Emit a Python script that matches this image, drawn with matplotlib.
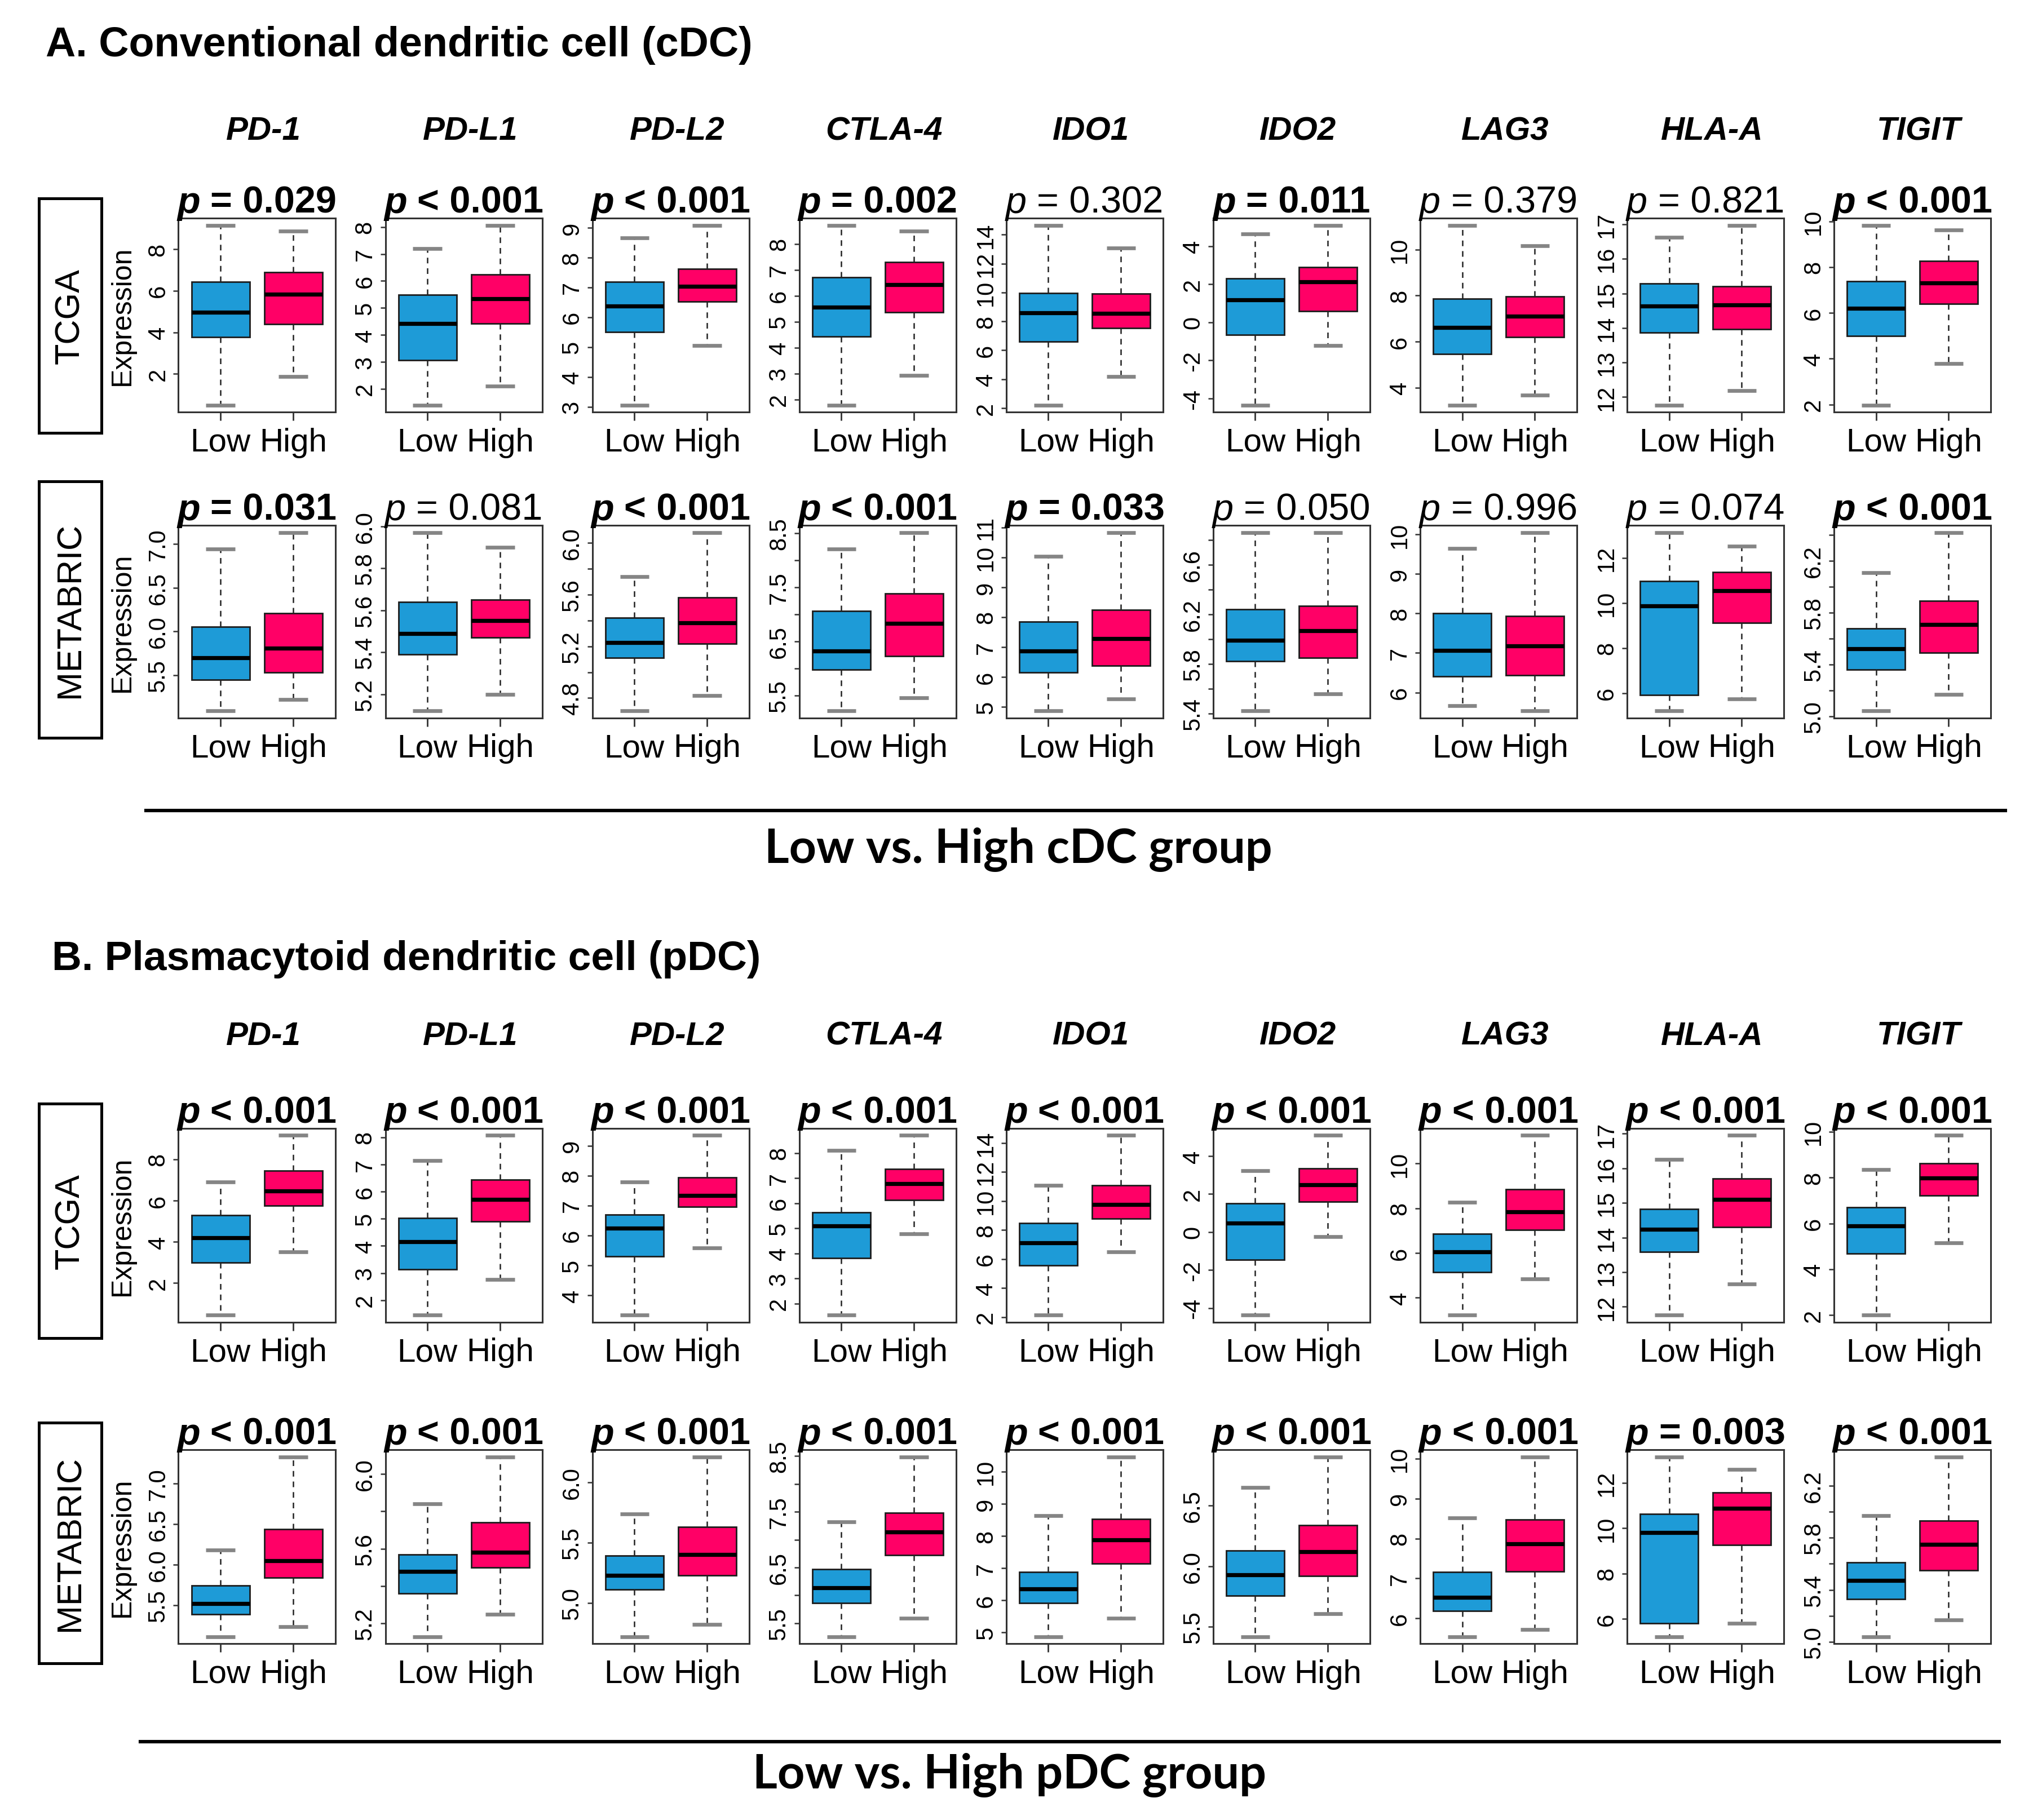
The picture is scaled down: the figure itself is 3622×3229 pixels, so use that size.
import matplotlib
matplotlib.use('Agg')
import matplotlib.pyplot as plt
from matplotlib.lines import Line2D
from matplotlib.patches import Rectangle

plt.rcParams['font.family'] = ['Liberation Sans', 'DejaVu Sans']

# ---------------- data ----------------
genes = ['PD-1', 'PD-L1', 'PD-L2', 'CTLA-4', 'IDO1', 'IDO2', 'LAG3', 'HLA-A', 'TIGIT']
groups = ['Low', 'High']
cohorts = ['TCGA', 'METABRIC', 'TCGA', 'METABRIC']

# box statistics per gene: [lower whisker, Q1, median, Q3, upper whisker]
cdc_tcga_low = [[0.5, 3.76, 4.97, 6.43, 9.15], [1.4, 3.07, 4.43, 5.49, 7.2], [3.06, 5.51, 6.37, 7.18, 8.67],
                [1.79, 4.42, 5.55, 6.70, 8.71], [2.21, 6.59, 8.61, 9.95, 14.65], [-4.34, -0.65, 1.18, 2.29, 4.64],
                [3.25, 5.46, 6.61, 7.87, 11.05], [11.77, 13.86, 14.63, 15.28, 16.62], [1.98, 5.0, 6.21, 7.37, 9.82]]
cdc_tcga_high = [[1.88, 4.4, 5.84, 6.88, 8.88], [2.1, 4.42, 5.34, 6.24, 8.06], [5.05, 6.52, 7.03, 7.63, 9.08],
                 [2.93, 5.37, 6.42, 7.29, 8.48], [4.2, 7.53, 8.55, 9.92, 13.08], [-1.23, 0.58, 2.14, 2.89, 5.09],
                 [3.68, 6.19, 7.10, 7.95, 10.16], [12.19, 13.97, 14.66, 15.20, 16.97], [3.79, 6.40, 7.31, 8.26, 9.63]]
cdc_tcga_p = ['= 0.029', '< 0.001', '< 0.001', '= 0.002', '= 0.302', '= 0.011', '= 0.379', '= 0.821', '< 0.001']

cdc_meta_low = [[5.09, 5.45, 5.70, 6.05, 6.94], [5.12, 5.39, 5.49, 5.64, 5.97], [4.70, 5.11, 5.23, 5.42, 5.74],
                [5.22, 5.98, 6.33, 7.06, 8.21], [4.86, 6.15, 6.86, 7.84, 10.03], [5.42, 5.82, 5.99, 6.24, 6.86],
                [5.66, 6.41, 7.06, 8.0, 9.65], [5.21, 5.92, 9.87, 10.98, 13.12], [5.04, 5.36, 5.52, 5.68, 6.11]]
cdc_meta_high = [[5.22, 5.53, 5.81, 6.21, 7.13], [5.2, 5.47, 5.55, 5.65, 5.90], [4.82, 5.22, 5.38, 5.58, 6.08],
                 [5.46, 6.23, 6.84, 7.39, 8.51], [5.26, 6.37, 7.29, 8.25, 10.83], [5.56, 5.85, 6.07, 6.27, 6.86],
                 [5.53, 6.43, 7.18, 7.94, 10.05], [5.75, 9.12, 10.55, 11.36, 12.52], [5.17, 5.49, 5.71, 5.89, 6.42]]
cdc_meta_p = ['= 0.031', '= 0.081', '< 0.001', '< 0.001', '= 0.033', '= 0.050', '= 0.996', '= 0.074', '< 0.001']

pdc_tcga_low = [[0.44, 2.98, 4.19, 5.3, 6.91], [1.45, 3.14, 4.16, 5.03, 7.15], [3.34, 5.31, 6.25, 6.69, 7.78],
                [1.54, 3.81, 5.10, 5.63, 8.10], [2.13, 5.57, 7.12, 8.48, 11.06], [-4.37, -1.46, 0.46, 1.52, 3.23],
                [3.22, 5.13, 6.05, 6.86, 8.27], [11.76, 13.58, 14.24, 14.83, 16.25], [2.0, 4.69, 5.88, 6.71, 8.35]]
pdc_tcga_high = [[3.51, 5.74, 6.46, 7.44, 9.16], [2.76, 4.90, 5.71, 6.43, 8.07], [5.58, 6.95, 7.33, 7.94, 9.34],
                 [4.78, 6.13, 6.78, 7.36, 8.70], [6.49, 8.77, 9.74, 11.07, 14.52], [-0.23, 1.59, 2.47, 3.33, 5.08],
                 [4.85, 7.03, 7.85, 8.85, 11.26], [12.66, 14.30, 15.10, 15.70, 16.95], [5.16, 7.21, 7.98, 8.61, 9.84]]
pdc_tcga_p = ['< 0.001'] * 9

pdc_meta_low = [[5.11, 5.39, 5.52, 5.74, 6.18], [5.13, 5.36, 5.48, 5.57, 5.84], [4.72, 5.11, 5.23, 5.39, 5.74],
                [5.26, 5.86, 6.14, 6.47, 7.32], [4.87, 5.91, 6.35, 6.88, 8.64], [5.42, 5.76, 5.93, 6.13, 6.65],
                [5.54, 6.18, 6.52, 7.16, 8.51], [5.21, 5.81, 9.82, 10.63, 13.15], [5.04, 5.33, 5.47, 5.61, 5.97]]
pdc_meta_high = [[5.23, 5.84, 6.05, 6.44, 7.33], [5.25, 5.50, 5.58, 5.74, 6.09], [4.82, 5.23, 5.40, 5.63, 6.21],
                 [5.59, 6.72, 7.14, 7.48, 8.48], [5.44, 7.14, 7.88, 8.53, 10.46], [5.61, 5.92, 6.12, 6.34, 6.90],
                 [5.72, 7.18, 7.87, 8.47, 10.04], [5.81, 9.27, 10.89, 11.58, 12.61], [5.17, 5.55, 5.75, 5.93, 6.42]]
pdc_meta_p = ['< 0.001'] * 7 + ['= 0.003', '< 0.001']

# y ticks and labels
tcga_ticks = [[2, 4, 6, 8], [2, 3, 4, 5, 6, 7, 8], [3, 4, 5, 6, 7, 8, 9], [2, 3, 4, 5, 6, 7, 8, 9],
              [2, 4, 6, 8, 10, 12, 14], [-4, -2, 0, 2, 4], [4, 6, 8, 10], [12, 13, 14, 15, 16, 17], [2, 4, 6, 8, 10]]
tcga_labels = [[str(v) for v in t] for t in tcga_ticks]

cdc_meta_ticks = [[5.5, 6.0, 6.5, 7.0], [5.2, 5.4, 5.6, 5.8, 6.0], [4.8, 5.0, 5.2, 5.4, 5.6, 5.8, 6.0],
                  [5.5, 6.0, 6.5, 7.0, 7.5, 8.0, 8.5], [5, 6, 7, 8, 9, 10, 11],
                  [5.4, 5.6, 5.8, 6.0, 6.2, 6.4, 6.6, 6.8], [6, 7, 8, 9, 10], [6, 8, 10, 12],
                  [5.0, 5.2, 5.4, 5.6, 5.8, 6.0, 6.2, 6.4]]
cdc_meta_labels = [['5.5', '6.0', '6.5', '7.0'], ['5.2', '5.4', '5.6', '5.8', '6.0'],
                   ['4.8', '', '5.2', '', '5.6', '', '6.0'], ['5.5', '', '6.5', '', '7.5', '', '8.5'],
                   ['5', '6', '7', '8', '9', '10', '11'], ['5.4', '', '5.8', '', '6.2', '', '6.6', ''],
                   ['6', '7', '8', '9', '10'], ['6', '8', '10', '12'],
                   ['5.0', '', '5.4', '', '5.8', '', '6.2', '']]
pdc_meta_ticks = [[5.5, 6.0, 6.5, 7.0], [5.2, 5.4, 5.6, 5.8, 6.0], [5.0, 5.5, 6.0],
                  [5.5, 6.0, 6.5, 7.0, 7.5, 8.0, 8.5], [5, 6, 7, 8, 9, 10], [5.5, 6.0, 6.5],
                  [6, 7, 8, 9, 10], [6, 8, 10, 12], [5.0, 5.2, 5.4, 5.6, 5.8, 6.0, 6.2]]
pdc_meta_labels = [['5.5', '6.0', '6.5', '7.0'], ['5.2', '', '5.6', '', '6.0'], ['5.0', '5.5', '6.0'],
                   ['5.5', '', '6.5', '', '7.5', '', '8.5'], ['5', '6', '7', '8', '9', '10'],
                   ['5.5', '6.0', '6.5'], ['6', '7', '8', '9', '10'], ['6', '8', '10', '12'],
                   ['5.0', '', '5.4', '', '5.8', '', '6.2']]

rows = [
    (cdc_tcga_low, cdc_tcga_high, cdc_tcga_p, tcga_ticks, tcga_labels),
    (cdc_meta_low, cdc_meta_high, cdc_meta_p, cdc_meta_ticks, cdc_meta_labels),
    (pdc_tcga_low, pdc_tcga_high, pdc_tcga_p, tcga_ticks, tcga_labels),
    (pdc_meta_low, pdc_meta_high, pdc_meta_p, pdc_meta_ticks, pdc_meta_labels),
]

section_titles = ['A. Conventional dendritic cell (cDC)', 'B. Plasmacytoid dendritic cell (pDC)']
group_titles = ['Low vs. High cDC group', 'Low vs. High pDC group']

# ---------------- layout ----------------
W, H, DPI = 3622, 3230, 200
SX, SY = 1568.0, 1398.3   # reference layout units
fig = plt.figure(figsize=(W / DPI, H / DPI), dpi=DPI)
renderer = fig.canvas.get_renderer()

def fx(x):
    return x / SX

def fy(y):
    return 1 - y / SY

BLUE = '#1E9BD7'
PINK = '#FF0066'
SANS = 'Liberation Sans'

PX0, PDX, PW = 137.0, 158.9, 120.5
ROWS_Y = [(168, 317), (404, 552), (867, 1016), (1114, 1263)]
BOXES_Y = [(153, 333), (370, 567), (848, 1028), (1093, 1278)]


def text_width(t):
    return t.get_window_extent(renderer).width / W


def is_significant(p):
    return p.startswith('<') or float(p[2:]) < 0.05


def p_label(cx, ybase, rest, bold):
    w = 'bold' if bold else 'normal'
    tp = fig.text(0, fy(ybase), 'p', fontsize=24, style='italic', weight=w,
                  va='baseline', ha='left', family=SANS)
    tr = fig.text(0, fy(ybase), rest, fontsize=24, weight=w,
                  va='baseline', ha='left', family=SANS)
    ta = fig.text(0, 0.5, 'aa', fontsize=24, weight=w, family=SANS)
    tb = fig.text(0, 0.5, 'a a', fontsize=24, weight=w, family=SANS)
    space = text_width(tb) - text_width(ta)
    ta.remove()
    tb.remove()
    wp = text_width(tp)
    wr = text_width(tr)
    total = wp + space + wr
    x0 = fx(cx) - total / 2
    tp.set_x(x0)
    tr.set_x(x0 + wp + space)


for r, (lows, highs, pvals, ticks, labels) in enumerate(rows):
    top, bot = ROWS_Y[r]
    for g in range(len(genes)):
        x0 = PX0 + g * PDX
        ax = fig.add_axes([fx(x0), fy(bot), PW / SX, (bot - top) / SY])
        stats = []
        for s, name in zip((lows[g], highs[g]), groups):
            stats.append(dict(whislo=s[0], q1=s[1], med=s[2], q3=s[3], whishi=s[4],
                              label=name, fliers=[]))
        ax.margins(y=0.04)
        bp = ax.bxp(stats, positions=[1, 2], widths=0.8, capwidths=0.4, patch_artist=True,
                    showfliers=False, manage_ticks=False,
                    boxprops=dict(edgecolor='#1c1c1c', linewidth=1.0),
                    medianprops=dict(color='black', linewidth=2.6, solid_capstyle='butt'),
                    whiskerprops=dict(color='#222222', linewidth=0.9, linestyle=(0, (4, 3.5))),
                    capprops=dict(color='#858585', linewidth=2.4, solid_capstyle='butt'))
        for patch, col in zip(bp['boxes'], (BLUE, PINK)):
            patch.set_facecolor(col)
        ax.set_xlim(0.42, 2.58)
        ax.relim()
        ax.autoscale_view(scalex=False)
        ylo, yhi = ax.get_ylim()
        tk = [(t, l) for t, l in zip(ticks[g], labels[g]) if ylo <= t <= yhi]
        ax.set_yticks([t for t, _ in tk], [l for _, l in tk])
        ax.set_ylim(ylo, yhi)
        ax.set_xticks([1, 2], groups)
        for sp in ax.spines.values():
            sp.set_linewidth(1.1)
            sp.set_color('#333333')
        ax.tick_params(axis='x', length=5.5, width=1.0, color='#333333', pad=4, labelsize=21)
        ax.tick_params(axis='y', length=3.2, width=0.9, color='#333333', pad=2.5, labelsize=15,
                       labelrotation=90)
        for lab in ax.get_yticklabels():
            lab.set_va('center')
        p_label(x0 + PW / 2, top - 4.5, pvals[g], is_significant(pvals[g]))
    # cohort box
    by0, by1 = BOXES_Y[r]
    fig.patches.append(Rectangle((fx(30), fy(by1)), fx(78) - fx(30), fy(by0) - fy(by1),
                                 transform=fig.transFigure, fill=False, edgecolor='black',
                                 linewidth=1.8))
    fig.text(fx(54), fy((by0 + by1) / 2), cohorts[r], rotation=90, ha='center', va='center',
             fontsize=22, family=SANS)
    fig.text(fx(94), fy((top + bot) / 2), 'Expression', rotation=90, ha='center', va='center',
             fontsize=18, family=SANS)

# gene names
for yy in (101, 796):
    for g, name in enumerate(genes):
        fig.text(fx(PX0 + g * PDX + PW / 2 + 5), fy(yy), name, ha='center', va='center',
                 fontsize=21, weight='bold', style='italic', family=SANS)


def fitted_text(x, y, s, target_w, ha, **kw):
    t = fig.text(fx(x), fy(y), s, ha=ha, va='center', fontsize=30, **kw)
    w = text_width(t) * SX
    t.set_fontsize(30 * target_w / w)
    return t


fitted_text(35, 35, section_titles[0], 543, 'left', weight='bold', family=SANS)
fitted_text(40, 737, section_titles[1], 545, 'left', weight='bold', family=SANS)
fitted_text(782, 652, group_titles[0], 390, 'center', weight='bold', family=['Lato', 'DejaVu Sans'])
fitted_text(775, 1363, group_titles[1], 395, 'center', weight='bold', family=['Lato', 'DejaVu Sans'])

# separator lines
fig.add_artist(Line2D([fx(112), fx(1540)], [fy(623), fy(623)], color='black', linewidth=2.2,
                      transform=fig.transFigure))
fig.add_artist(Line2D([fx(108), fx(1535)], [fy(1338), fy(1338)], color='black', linewidth=2.2,
                      transform=fig.transFigure))

fig.savefig('out.png', dpi=DPI, facecolor='white')
